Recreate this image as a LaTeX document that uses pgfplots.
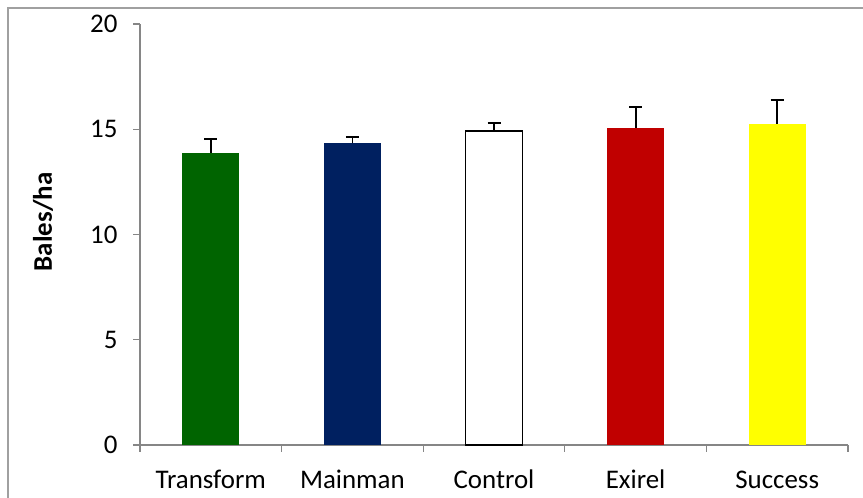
\documentclass[border=0pt]{standalone}
\usepackage{pgfplots}
\pgfplotsset{compat=1.18}
\usepackage{fontspec}
\setmainfont{Carlito}

\definecolor{barGreen}{RGB}{0,100,0}
\definecolor{barNavy}{RGB}{0,32,96}
\definecolor{barRed}{RGB}{192,0,0}
\definecolor{barYellow}{RGB}{255,255,0}
\definecolor{axisGray}{RGB}{134,134,134}
\definecolor{frameGray}{RGB}{160,160,160}

\pgfplotsset{
  errs/.style={
    error bars/.cd,
      y dir=plus, y explicit,
      error bar style={black, line width=1.8bp},
      error mark options={rotate=90, mark size=6.5bp, line width=1.8bp, black},
  },
}

\begin{document}
\begin{tikzpicture}[x=1bp,y=1bp]
\useasboundingbox (0,0) rectangle (863,498);
\draw[frameGray, line width=1.2bp] (8,0) -- (8,490) -- (863,490);
\begin{axis}[
  at={(140bp,53bp)}, anchor=south west,
  scale only axis, width=708bp, height=421bp,
  xmin=-0.5, xmax=4.5, ymin=0, ymax=20,
  axis x line*=bottom, axis y line*=left,
  axis line style={axisGray, line width=1.2bp, -},
  every tick/.style={axisGray, line width=1.2bp},
  tick align=outside,
  major tick length=7bp, minor tick length=7bp,
  ytick={0,5,...,20},
  xtick={0,...,4},
  xticklabels={Transform,Mainman,Control,Exirel,Success},
  major x tick style={draw=none},
  minor xtick={-0.5,0.5,...,4.5},
  tick label style={font=\fontsize{27}{32}\selectfont},
  /pgf/number format/assume math mode=true,
  xticklabel style={text height=19bp, text depth=6bp, yshift=-14bp},
  yticklabel style={xshift=-12bp},
  ylabel={\bfseries Bales/ha},
  ylabel style={font=\fontsize{27}{32}\selectfont, at={(axis description cs:-0.137,0.53)}, anchor=center},
  bar width=0.4,
  clip=false,
]
\addplot[ybar, bar shift=0pt, fill=barGreen, draw=none, errs] coordinates {(0,13.88) +- (0,0.64)};
\addplot[ybar, bar shift=0pt, fill=barNavy, draw=none, errs] coordinates {(1,14.33) +- (0,0.32)};
\addplot[ybar, bar shift=0pt, fill=white, draw=black, line width=1.6bp, errs] coordinates {(2,14.93) +- (0,0.35)};
\addplot[ybar, bar shift=0pt, fill=barRed, draw=none, errs] coordinates {(3,15.06) +- (0,0.98)};
\addplot[ybar, bar shift=0pt, fill=barYellow, draw=none, errs] coordinates {(4,15.26) +- (0,1.13)};
\end{axis}
\end{tikzpicture}
\end{document}
